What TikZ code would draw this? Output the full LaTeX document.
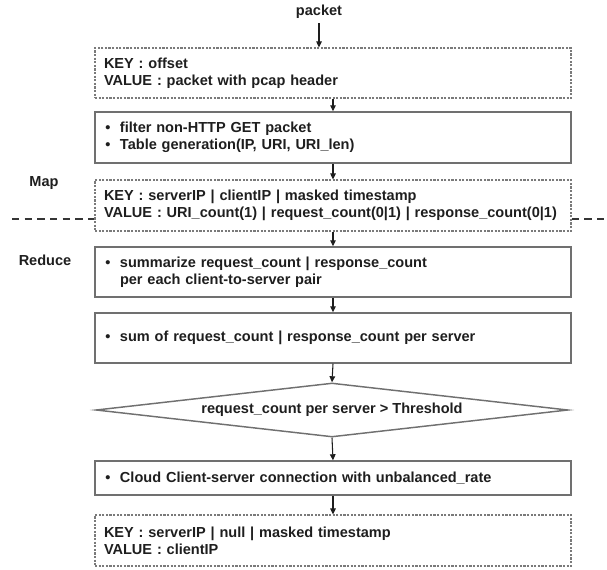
\documentclass[tikz,border=0pt]{standalone}
\usepackage{fontspec}
\setmainfont{Liberation Sans}
\usetikzlibrary{arrows.meta,shapes.geometric}
\definecolor{boxgray}{HTML}{707070}
\definecolor{dashgray}{HTML}{7A7A7A}
\definecolor{txt}{HTML}{1E1E1E}
\newcommand{\bul}{\makebox[12pt][l]{\hspace{1pt}•}}
\tikzset{
  lbl/.style={font=\bfseries\fontsize{10.9pt}{12.75pt}\selectfont, text=txt, inner sep=0pt},
  basebox/.style={lbl, minimum width=357pt, text width=343.5pt, inner xsep=6.75pt, inner ysep=0pt, align=left},
  solidbox/.style={basebox, draw=boxgray, line width=1.1pt},
  dashbox/.style={basebox, draw=dashgray, line width=1pt, dash pattern=on 1.6pt off 1.1pt},
  decision/.style={lbl, diamond, aspect=8.74, draw=boxgray, line width=1.1pt, minimum width=354pt, minimum height=40.5pt, inner sep=0pt, align=center},
  arr/.style={draw=txt, line width=0.8pt, -{Triangle[length=4.5pt,width=4.2pt]}},
  sepline/.style={draw=txt!90, line width=1pt, dash pattern=on 5.5pt off 4pt}
}
\begin{document}
\begin{tikzpicture}[x=0.75pt,y=-0.75pt]
\useasboundingbox (0,0) rectangle (607,569);
\node[lbl] (pk) at (319,12) {packet};
\node[dashbox, minimum height=37.5pt] (b1) at (333,73) {KEY : offset\\VALUE : packet with pcap header};
\node[solidbox, minimum height=38.25pt] (b2) at (333,137.5) {\bul filter non-HTTP GET packet\\\bul Table generation(IP, URI, URI\_len)};
\node[dashbox, minimum height=38.25pt] (b3) at (333,205.5) {KEY : serverIP | clientIP | masked timestamp\\VALUE : URI\_count(1) | request\_count(0|1) | response\_count(0|1)};
\node[solidbox, minimum height=37.5pt] (b4) at (333,272) {\bul summarize request\_count | response\_count\\\hspace*{12pt}per each client-to-server pair};
\node[solidbox, minimum height=37.5pt] (b5) at (333,338) {\bul sum of request\_count | response\_count per server};
\node[decision] (d1) at (332,410) {request\_count per server > Threshold};
\node[solidbox, minimum height=25.5pt] (b6) at (333,478) {\bul Cloud Client-server connection with unbalanced\_rate};
\node[dashbox, minimum height=38.25pt] (b7) at (333,540.5) {KEY : serverIP | null | masked timestamp\\VALUE : clientIP};
\node[lbl] (map) at (44,183) {Map};
\node[lbl] (red) at (45,260) {Reduce};
\coordinate (sepL) at (12,219);
\coordinate (sepR) at (607,219);
\draw[sepline] (sepL) -- (sepL -| b3.west);
\draw[sepline] (b3.east |- sepR) -- (sepR);
\draw[arr] (pk.south) ++(0,4) -- (pk.south |- b1.north);
\draw[arr] (b1.south) -- (b2.north);
\draw[arr] (b2.south) -- (b3.north);
\draw[arr] (b3.south) -- (b4.north);
\draw[arr] (b4.south) -- (b5.north);
\draw[arr] (b5.south) -- (d1.north);
\draw[arr] (d1.south) -- (b6.north);
\draw[arr] (b6.south) -- (b7.north);
\end{tikzpicture}
\end{document}
